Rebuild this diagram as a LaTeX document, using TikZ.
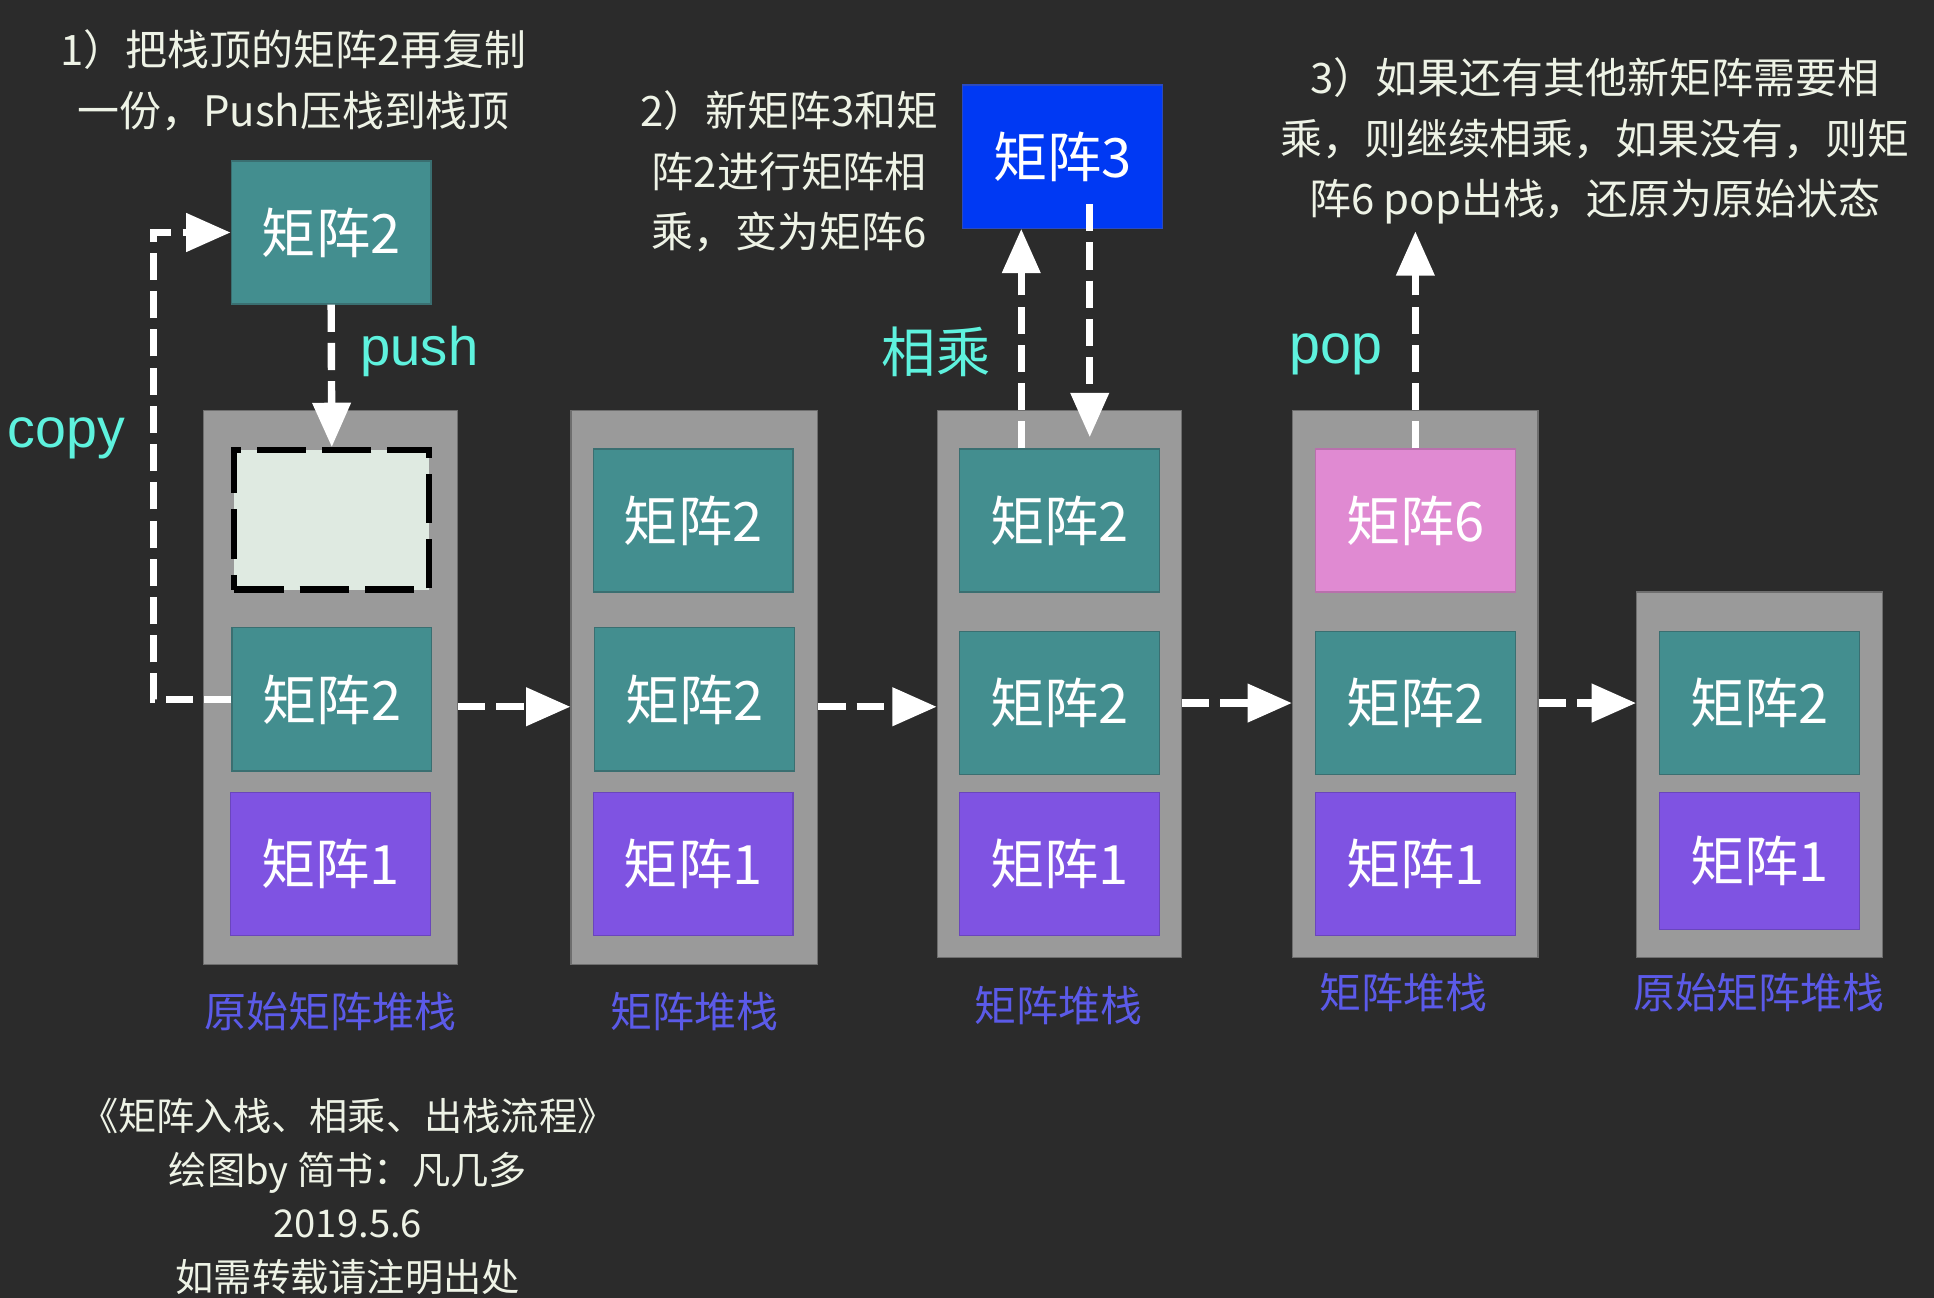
\documentclass[tikz,border=0pt]{standalone}
\usepackage{fontspec}
\setmainfont{Noto Sans CJK SC}
\newfontfamily\latinsans{Liberation Sans}
\usetikzlibrary{arrows.meta}
\definecolor{bg}{HTML}{2B2B2B}
\definecolor{stackgray}{HTML}{9A9A9A}
\definecolor{stackedge}{HTML}{6E6E6E}
\definecolor{tealc}{HTML}{438E8F}
\definecolor{tealedge}{HTML}{3A6F71}
\definecolor{purplec}{HTML}{7F53E2}
\definecolor{purpleedge}{HTML}{6A46BC}
\definecolor{pinkc}{HTML}{E08AD2}
\definecolor{pinkedge}{HTML}{B870AC}
\definecolor{bluec}{HTML}{0039F3}
\definecolor{blueedge}{HTML}{2A4AC0}
\definecolor{emptyc}{HTML}{DFEAE1}
\definecolor{lighttext}{HTML}{EEF3E6}
\definecolor{cyanc}{HTML}{5EF2DE}
\definecolor{labelc}{HTML}{5B5AE8}
\begin{document}
\begin{tikzpicture}[x=1pt,y=-1pt,
  stackbox/.style={draw=stackedge, fill=stackgray, line width=1pt, inner sep=0pt},
  mbox/.style={line width=1pt, inner sep=0pt, minimum width=162pt, minimum height=116pt,
    text=white, font=\fontsize{44}{50}\selectfont},
  tealbox/.style={mbox, fill=tealc, draw=tealedge},
  purplebox/.style={mbox, fill=purplec, draw=purpleedge},
  pinkbox/.style={mbox, fill=pinkc, draw=pinkedge},
  bluebox/.style={mbox, fill=bluec, draw=blueedge},
  emptybox/.style={mbox, fill=emptyc, draw=black, line width=5pt, dash pattern=on 40pt off 13pt},
  flow/.style={draw=white, line width=6pt, dash pattern=on 22pt off 9pt,
    -{Triangle[length=36pt,width=30pt]}},
  note/.style={text=lighttext, align=center, font=\fontsize{34}{49}\selectfont, inner sep=0pt},
  cyanlabel/.style={text=cyanc, inner sep=0pt, font=\fontsize{44}{50}\selectfont},
  stacklabel/.style={text=labelc, inner sep=0pt, font=\fontsize{34}{40}\selectfont},
]
\fill[bg] (0,0) rectangle (1568,1052);
\useasboundingbox (0,0) rectangle (1568,1052);

% stacks
\node[stackbox, minimum width=206pt, minimum height=449pt] (s1) at (268,557.5) {};
\node[stackbox, minimum width=200pt, minimum height=449pt] (s2) at (563,557.5) {};
\node[stackbox, minimum width=198pt, minimum height=443pt] (s3) at (859,554.5) {};
\node[stackbox, minimum width=199pt, minimum height=443pt] (s4) at (1147.5,554.5) {};
\node[stackbox, minimum width=199pt, minimum height=296pt] (s5) at (1426.5,628) {};

% matrices
\node[tealbox] (top2) at (268.5,188.5) {矩阵2};
\node[bluebox] (m3) at (861.5,127) {矩阵3};

\node[emptybox, minimum width=158pt, minimum height=113pt] (s1a) at (269,421.5) {};
\node[tealbox] (s1b) at (269,567) {矩阵2};
\node[purplebox] (s1c) at (268,700.5) {矩阵1};

\node[tealbox] (s2a) at (562,422) {矩阵2};
\node[tealbox] (s2b) at (563,567) {矩阵2};
\node[purplebox] (s2c) at (562,700.5) {矩阵1};

\node[tealbox] (s3a) at (859,422) {矩阵2};
\node[tealbox] (s3b) at (859,570) {矩阵2};
\node[purplebox] (s3c) at (859,700.5) {矩阵1};

\node[pinkbox] (s4a) at (1147.5,422) {矩阵6};
\node[tealbox] (s4b) at (1147.5,570) {矩阵2};
\node[purplebox] (s4c) at (1147.5,700.5) {矩阵1};

\node[tealbox] (s5a) at (1426.5,570) {矩阵2};
\node[purplebox, minimum height=111pt] (s5b) at (1426.5,698) {矩阵1};

% stack labels
\node[stacklabel] (l1) at (268,820) {原始矩阵堆栈};
\node[stacklabel] (l2) at (563,820) {矩阵堆栈};
\node[stacklabel] (l3) at (858,815) {矩阵堆栈};
\node[stacklabel] (l4) at (1138,805) {矩阵堆栈};
\node[stacklabel] (l5) at (1426,805) {原始矩阵堆栈};

% notes
\node[note] (n1) at (238,65) {1）把栈顶的矩阵2再复制\\一份，Push压栈到栈顶};
\node[note] (n2) at (640,139) {2）新矩阵3和矩\\阵2进行矩阵相\\乘，变为矩阵6};
\node[note] (n3) at (1293,114.5) {3）如果还有其他新矩阵需要相\\乘，则继续相乘，如果没有，则矩\\阵6 pop出栈，还原为原始状态};
\node[note, font=\fontsize{31}{43.5}\selectfont] (credit) at (282,970)
  {《矩阵入栈、相乘、出栈流程》\\绘图by 简书：凡几多\\2019.5.6\\如需转载请注明出处};

% cyan labels
\node[cyanlabel, font=\fontsize{44}{50}\latinsans] (lpush) at (340,285) {push};
\node[cyanlabel, font=\fontsize{45}{50}\latinsans] (lcopy) at (54,355) {copy};
\node[cyanlabel] (lmul) at (759,285) {相乘};
\node[cyanlabel, font=\fontsize{45}{50}\latinsans] (lpop) at (1083,287) {pop};

% connectors
\draw[flow] (s1b.west) -- ++(-63,0) |- (top2.west);
\draw[flow] (top2.south) -- (s1a.north);
\coordinate (h1) at ([yshift=-6pt]s1b.center);
\coordinate (h2) at ([yshift=-6pt]s2b.center);
\draw[flow] (h1 -| s1.east) -- (h1 -| s2.west);
\draw[flow] (h2 -| s2.east) -- (h2 -| s3.west);
\draw[flow] (s3b -| s3.east) -- (s3b -| s4.west);
\draw[flow] (s4b -| s4.east) -- (s4b -| s5.west);

\coordinate (mulA) at ([xshift=-31pt]s3a.north);
\draw[flow] (mulA) -- (mulA |- m3.south);
\coordinate (mulB) at ([xshift=22pt,yshift=20pt]m3.south);
\draw[flow, shorten >=9pt] (mulB) -- (mulB |- s3a.north);

\coordinate (popTop) at ([yshift=176pt]s4a.north);
\draw[flow] (s4a.north) -- (popTop);
\end{tikzpicture}
\end{document}
